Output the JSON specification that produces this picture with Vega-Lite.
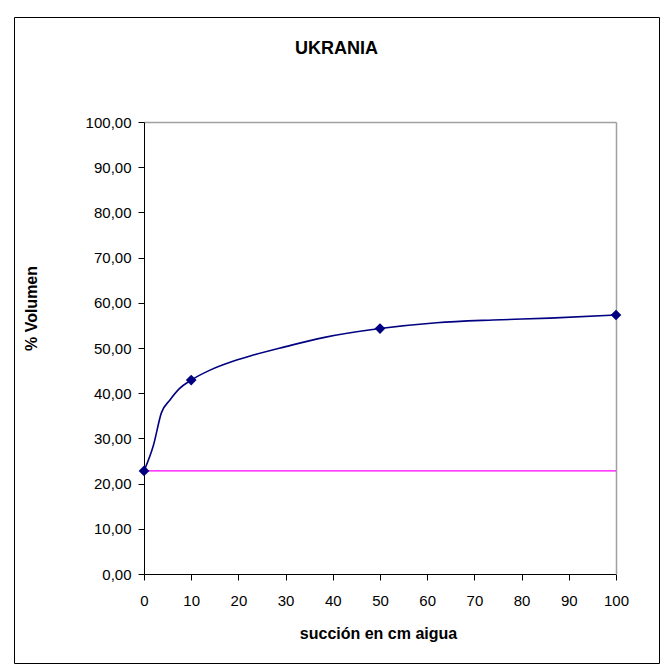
{
  "$schema": "https://vega.github.io/schema/vega-lite/v6.json",
  "autosize": "none",
  "padding": {"left": 14, "top": 17, "right": 5, "bottom": 3},
  "width": 645,
  "height": 646,
  "background": "white",
  "config": {
    "view": {"stroke": "black", "strokeWidth": 1},
    "font": "Liberation Sans",
    "axis": {"labelFont": "Liberation Sans", "titleFont": "Liberation Sans", "labelColor": "black", "titleColor": "black"}
  },
  "title": {
    "text": "UKRANIA",
    "font": "Liberation Sans",
    "fontSize": 18,
    "fontWeight": "bold",
    "color": "black",
    "anchor": "middle",
    "baseline": "alphabetic",
    "offset": -55
  },
  "datasets": {
    "curve": [
      {"succion": 0, "volumen": 22.8},
      {"succion": 2, "volumen": 28.5},
      {"succion": 3.7, "volumen": 35.7},
      {"succion": 5.5, "volumen": 38.5},
      {"succion": 7.5, "volumen": 41.0},
      {"succion": 10, "volumen": 42.9},
      {"succion": 14, "volumen": 45.1},
      {"succion": 19, "volumen": 47.1},
      {"succion": 23, "volumen": 48.4},
      {"succion": 30, "volumen": 50.3},
      {"succion": 38, "volumen": 52.3},
      {"succion": 50, "volumen": 54.3},
      {"succion": 62, "volumen": 55.6},
      {"succion": 74, "volumen": 56.2},
      {"succion": 86, "volumen": 56.6},
      {"succion": 100, "volumen": 57.3}
    ],
    "points": [
      {"succion": 0, "volumen": 22.8},
      {"succion": 10, "volumen": 42.9},
      {"succion": 50, "volumen": 54.3},
      {"succion": 100, "volumen": 57.3}
    ],
    "ref": [
      {"succion": 0, "volumen": 22.8},
      {"succion": 100, "volumen": 22.8}
    ]
  },
  "resolve": {"axis": {"y": "independent"}},
  "encoding": {
    "x": {
      "field": "succion",
      "type": "quantitative",
      "scale": {"domain": [0, 100], "range": [130, 602], "nice": false},
      "axis": {
        "title": "succión en cm aigua",
        "titleFontSize": 16,
        "titleFontWeight": "bold",
        "titleX": 364,
        "titleY": 64,
        "titleBaseline": "alphabetic",
        "titleAnchor": null,
        "values": [0, 10, 20, 30, 40, 50, 60, 70, 80, 90, 100],
        "offset": -89,
        "domainColor": "black",
        "tickColor": "black",
        "tickSize": 6,
        "labelFontSize": 15,
        "labelPadding": 13,
        "labelFlush": false,
        "labelOverlap": false,
        "grid": false
      }
    }
  },
  "layer": [
    {
      "data": {"name": "ref"},
      "mark": {"type": "line", "color": "#FF00FF", "strokeWidth": 1.2},
      "encoding": {
        "y": {
          "field": "volumen",
          "type": "quantitative",
          "scale": {"domain": [0, 100], "range": [557, 105], "nice": false},
          "axis": {
            "orient": "left",
            "title": "% Volumen",
            "titleFontSize": 16,
            "titleFontWeight": "bold",
            "titleX": -113,
            "titleY": 291,
            "titleAngle": 270,
            "titleBaseline": "middle",
            "titleAlign": "center",
            "values": [0, 10, 20, 30, 40, 50, 60, 70, 80, 90, 100],
            "format": ".2f",
            "labelExpr": "replace(datum.label, '.', ',')",
            "offset": -130,
            "domainColor": "black",
            "tickColor": "black",
            "tickSize": 6,
            "labelFontSize": 15,
            "labelPadding": 7,
            "labelFlush": false,
            "labelOverlap": false,
            "grid": true,
            "gridColor": {"condition": {"test": "datum.value === 100", "value": "#a0a0a0"}, "value": "transparent"},
            "gridWidth": 1.5
          }
        }
      }
    },
    {
      "data": {"name": "curve"},
      "mark": {"type": "line", "color": "#000080", "strokeWidth": 1.6, "interpolate": "monotone"},
      "encoding": {
        "y": {
          "field": "volumen",
          "type": "quantitative",
          "scale": {"domain": [0, 100], "range": [557, 105], "nice": false},
          "axis": {
            "orient": "right",
            "title": null,
            "offset": -43,
            "domainColor": "#a0a0a0",
            "domainWidth": 1.5,
            "ticks": false,
            "labels": false,
            "grid": false
          }
        }
      }
    },
    {
      "data": {"name": "points"},
      "mark": {"type": "point", "shape": "diamond", "filled": true, "color": "#000080", "size": 115, "opacity": 1},
      "encoding": {
        "y": {
          "field": "volumen",
          "type": "quantitative",
          "scale": {"domain": [0, 100], "range": [557, 105], "nice": false},
          "axis": null
        }
      }
    }
  ]
}
